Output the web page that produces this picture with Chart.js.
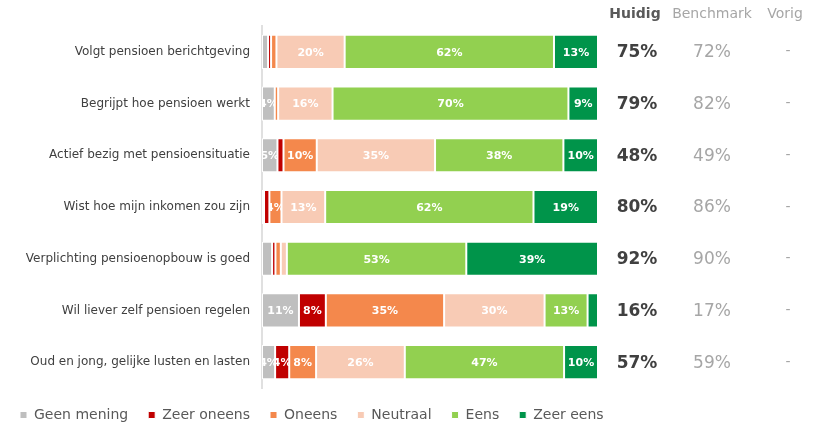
<!DOCTYPE html>
<html>
<head>
<meta charset="utf-8">
<script src="https://cdn.jsdelivr.net/npm/chart.js@4.4.1/dist/chart.umd.min.js"></script>
<style>
  html, body { margin: 0; padding: 0; background: #fff; }
</style>
</head>
<body>
<canvas id="chart" width="823" height="429"></canvas>
<script>
  // Data
  var categories = [
    'Volgt pensioen berichtgeving',
    'Begrijpt hoe pensioen werkt',
    'Actief bezig met pensioensituatie',
    'Wist hoe mijn inkomen zou zijn',
    'Verplichting pensioenopbouw is goed',
    'Wil liever zelf pensioen regelen',
    'Oud en jong, gelijke lusten en lasten'
  ];
  var geenMening = [1.8, 3.8, 4.6, 0.6, 3.0, 11.0, 3.9];
  var zeerOneens = [0.9, 0, 1.8, 1.6, 1.0, 8.0, 4.2];
  var oneens     = [1.6, 1.0, 9.9, 3.6, 1.6, 35.2, 8.0];
  var neutraal   = [20.3, 16.2, 35.2, 13.0, 1.8, 29.9, 26.4];
  var eens       = [62.3, 70.2, 38.2, 62.0, 53.4, 12.8, 47.4];
  var zeerEens   = [13.1, 8.8, 10.3, 19.2, 39.2, 3.1, 10.1];

  var huidig    = ['75%', '79%', '48%', '80%', '92%', '16%', '57%'];
  var benchmark = ['72%', '82%', '49%', '86%', '90%', '17%', '59%'];
  var vorig     = ['-', '-', '-', '-', '-', '-', '-'];

  var font = "'DejaVu Sans', Verdana, sans-serif";

  // White percentage labels in the segments
  var barLabels = {
    id: 'barLabels',
    afterDatasetsDraw: function (chart) {
      var ctx = chart.ctx;
      ctx.save();
      ctx.font = 'bold 11px ' + font;
      ctx.fillStyle = '#ffffff';
      ctx.textAlign = 'center';
      ctx.textBaseline = 'middle';
      chart.data.datasets.forEach(function (ds, i) {
        chart.getDatasetMeta(i).data.forEach(function (bar, j) {
          var v = ds.data[j];
          if (v < 3.5) return;
          var left = Math.min(bar.base, bar.x);
          var w = Math.abs(bar.x - bar.base);
          ctx.save();
          ctx.beginPath();
          ctx.rect(left, bar.y - bar.height / 2, w, bar.height);
          ctx.clip();
          ctx.fillText(Math.round(v) + '%', left + w / 2, bar.y + 1);
          ctx.restore();
        });
      });
      ctx.restore();
    }
  };

  // Huidig / Benchmark / Vorig columns on the right
  var sideColumns = {
    id: 'sideColumns',
    afterDraw: function (chart) {
      var ctx = chart.ctx;
      var y = chart.scales.y;
      ctx.save();
      ctx.textAlign = 'center';
      ctx.textBaseline = 'middle';
      ctx.font = 'bold 14px ' + font;
      ctx.fillStyle = '#595959';
      ctx.fillText('Huidig', 635, 14);
      ctx.font = '14px ' + font;
      ctx.fillStyle = '#a6a6a6';
      ctx.fillText('Benchmark', 712, 14);
      ctx.fillText('Vorig', 785, 14);
      categories.forEach(function (c, i) {
        var py = y.getPixelForValue(i);
        ctx.font = 'bold 17px ' + font;
        ctx.fillStyle = '#404040';
        ctx.fillText(huidig[i], 637, py + 1);
        ctx.font = '17px ' + font;
        ctx.fillStyle = '#a6a6a6';
        ctx.fillText(benchmark[i], 712, py + 1);
        ctx.font = '14px ' + font;
        ctx.fillText(vorig[i], 788, py);
      });
      ctx.restore();
    }
  };

  function series(label, data, color) {
    return {
      label: label,
      data: data,
      backgroundColor: color,
      borderColor: '#ffffff',
      borderWidth: 1,
      borderSkipped: false,
      barPercentage: 0.66,
      categoryPercentage: 1
    };
  }

  new Chart(document.getElementById('chart'), {
    type: 'bar',
    data: {
      labels: categories,
      datasets: [
        series('Geen mening', geenMening, '#bfbfbf'),
        series('Zeer oneens', zeerOneens, '#c00000'),
        series('Oneens', oneens, '#f4884c'),
        series('Neutraal', neutraal, '#f8cbb5'),
        series('Eens', eens, '#92d050'),
        series('Zeer eens', zeerEens, '#00944a')
      ]
    },
    options: {
      indexAxis: 'y',
      responsive: false,
      animation: false,
      layout: { padding: { top: 26, right: 0, bottom: -3, left: 0 } },
      scales: {
        x: { stacked: true, min: 0, max: 100, display: false },
        y: {
          stacked: true,
          grid: { display: false },
          border: { display: true, color: '#e0e0e0', width: 2 },
          ticks: { color: '#404040', font: { family: font, size: 12 }, padding: 4 },
          afterFit: function (scale) { scale.width = 262; }
        },
        // empty axis that reserves room for the right-hand columns
        side: {
          axis: 'y',
          position: 'right',
          grid: { display: false },
          border: { display: false },
          ticks: { display: false },
          afterFit: function (scale) { scale.width = 225; }
        }
      },
      plugins: {
        legend: {
          position: 'bottom',
          align: 'start',
          labels: {
            boxWidth: 7,
            boxHeight: 7,
            padding: 20,
            color: '#595959',
            font: { family: font, size: 14 }
          }
        },
        tooltip: { enabled: false }
      }
    },
    plugins: [barLabels, sideColumns]
  });
</script>
</body>
</html>
